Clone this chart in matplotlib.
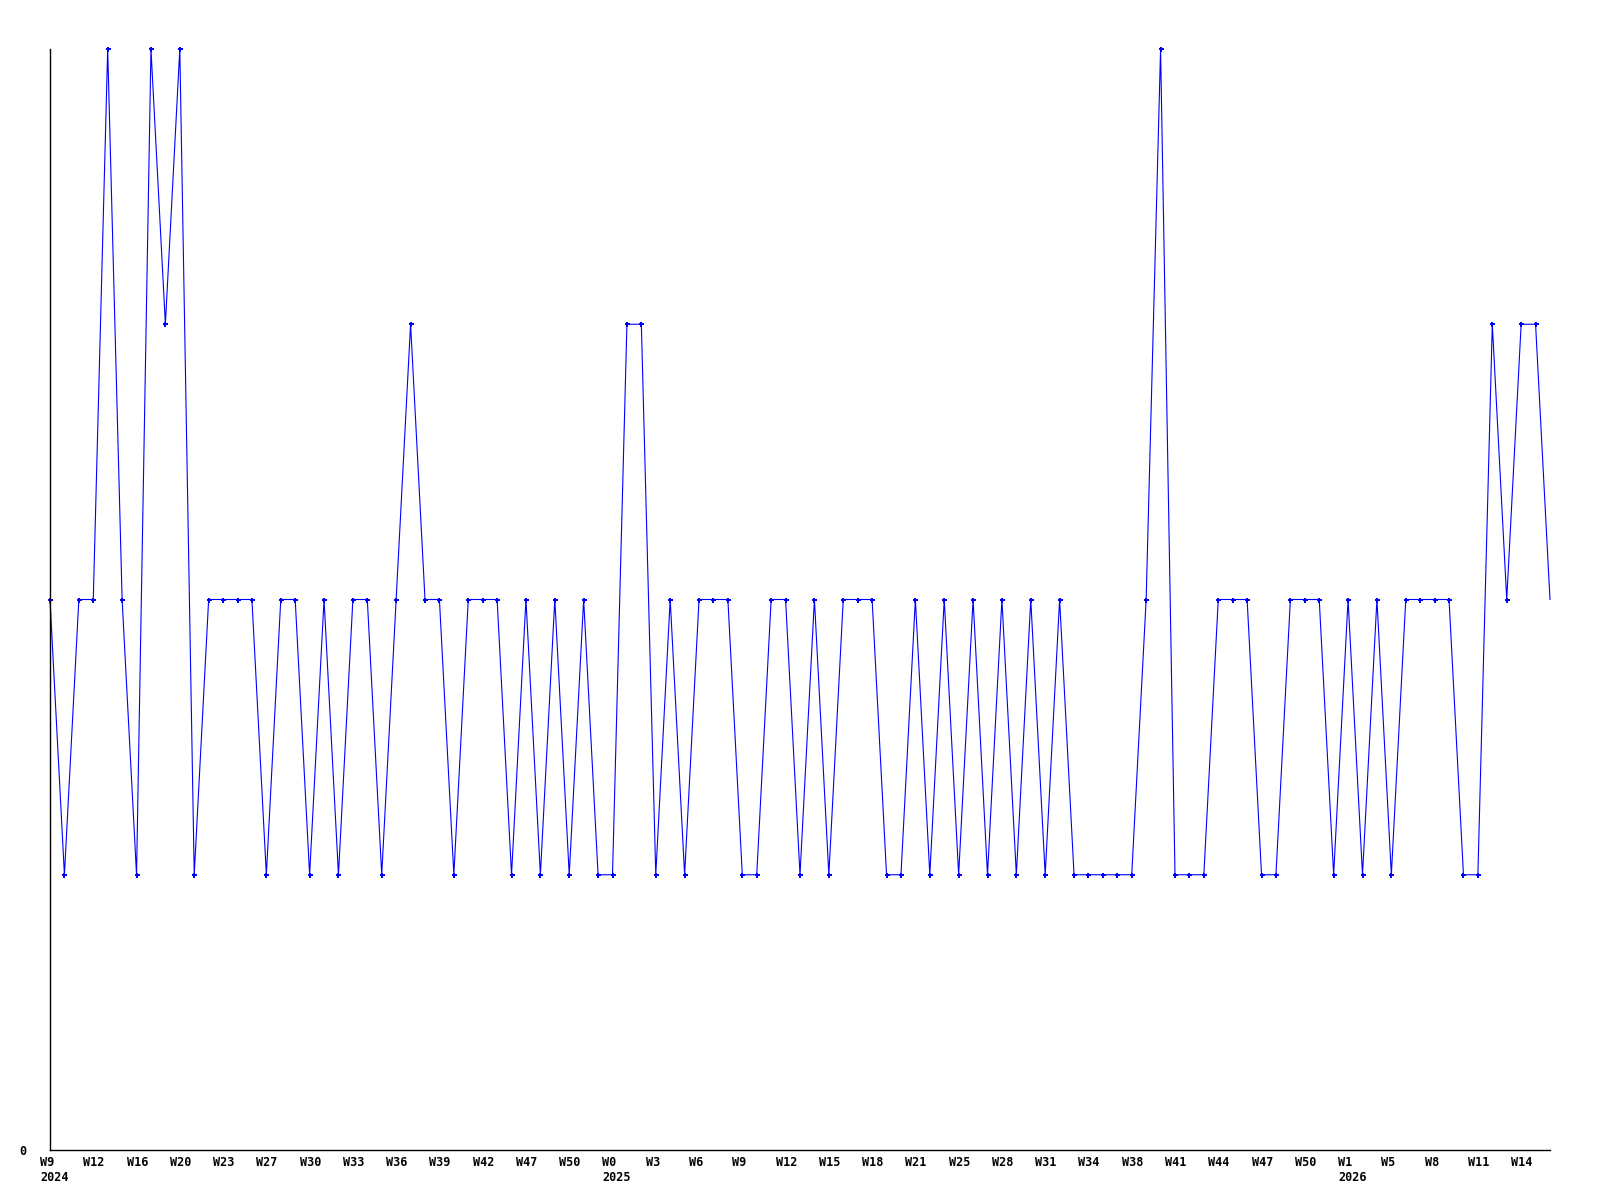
import matplotlib
matplotlib.use("Agg")
import matplotlib.pyplot as plt
import matplotlib.transforms as mtransforms

# weekly values, 2024 W9 .. 2026 W15
values = [2, 1, 2, 2, 4, 2, 1, 4, 3, 4,
          1, 2, 2, 2, 2, 1, 2, 2, 1, 2,
          1, 2, 2, 1, 2, 3, 2, 2, 1, 2,
          2, 2, 1, 2, 1, 2, 1, 2, 1, 1,
          3, 3, 1, 2, 1, 2, 2, 2, 1, 1,
          2, 2, 1, 2, 1, 2, 2, 2, 1, 1,
          2, 1, 2, 1, 2, 1, 2, 1, 2, 1,
          2, 1, 1, 1, 1, 1, 2, 4, 1, 1,
          1, 2, 2, 2, 1, 1, 2, 2, 2, 1,
          2, 1, 2, 1, 2, 2, 2, 2, 1, 1,
          3, 2, 3, 3, 2]

week_labels = ["W9", "W12", "W16", "W20", "W23", "W27", "W30", "W33", "W36",
               "W39", "W42", "W47", "W50", "W0", "W3", "W6", "W9", "W12",
               "W15", "W18", "W21", "W25", "W28", "W31", "W34", "W38", "W41",
               "W44", "W47", "W50", "W1", "W5", "W8", "W11", "W14"]
year_labels = {0: "2024", 13: "2025", 30: "2026"}
label_step = 3

x = list(range(len(values)))

fig = plt.figure(figsize=(16, 12), dpi=100)
ax = fig.add_axes([50 / 1600, 1 - 1150 / 1200, 1500 / 1600, 1101 / 1200])

ax.plot(x, values, color="#0000ff", linewidth=0.8, marker="P", markersize=3.6,
        markeredgewidth=0, markevery=list(range(len(values) - 1)), clip_on=False)

ax.set_xlim(0, len(values) - 1)
ax.set_ylim(0, 4)

for s in ["top", "right"]:
    ax.spines[s].set_visible(False)
ax.spines["left"].set_linewidth(1.0)
ax.spines["bottom"].set_linewidth(1.0)

font = {"family": "DejaVu Sans Mono", "weight": "bold", "size": 8.5}

# week labels, left edge a bit before each tick
ax.set_xticks([])
shift = mtransforms.ScaledTranslation(-10 / 100, -6 / 100, fig.dpi_scale_trans)
trans = ax.get_xaxis_transform() + shift
for i, w in enumerate(week_labels):
    txt = w
    if i in year_labels:
        txt = w + "\n" + year_labels[i]
    ax.text(i * label_step, 0, txt, transform=trans, ha="left", va="top",
            linespacing=1.2, fontdict=font)

ax.set_yticks([0])
ax.set_yticklabels(["0"], fontdict=font)
ax.tick_params(axis="y", length=0, pad=17)

fig.savefig("out.png", dpi=100)
